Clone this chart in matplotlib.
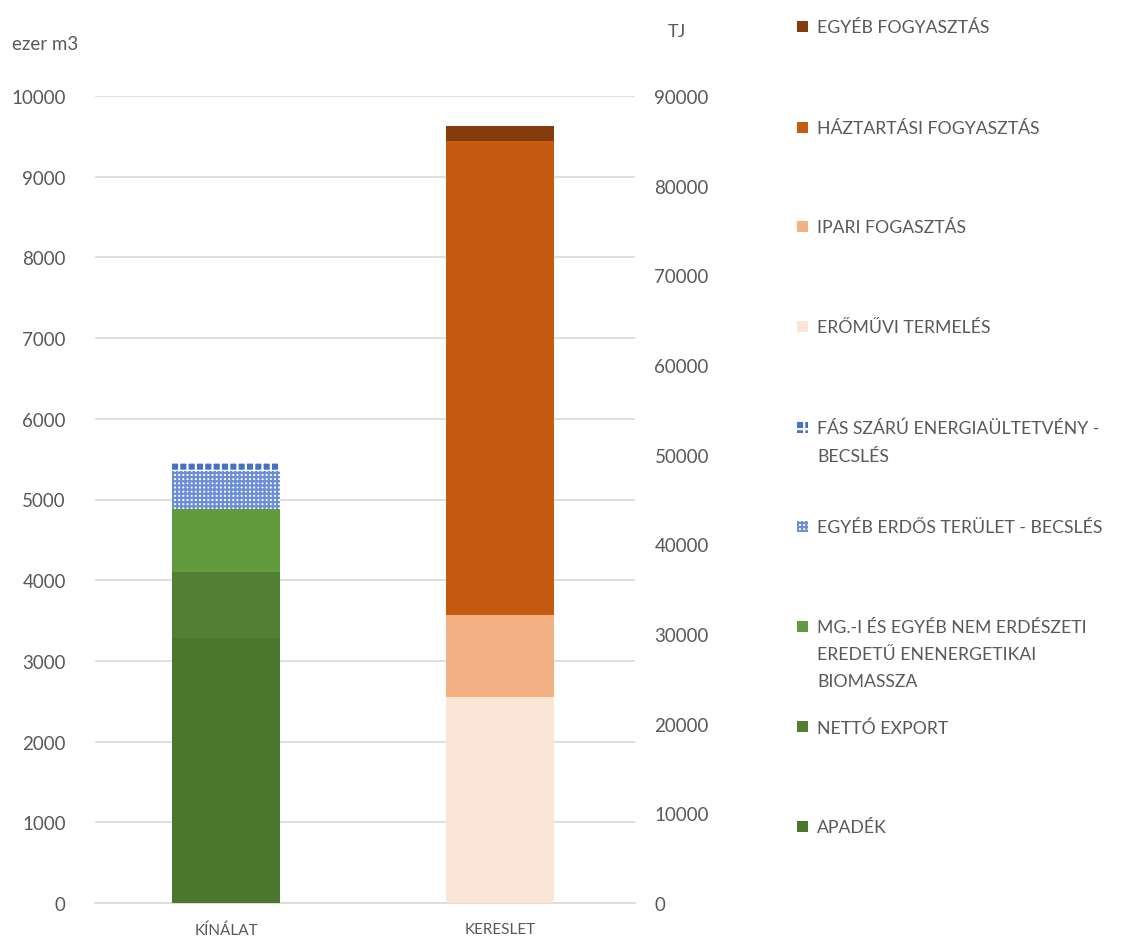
import numpy as np
import matplotlib
matplotlib.use("Agg")
import matplotlib.pyplot as plt
from matplotlib.patches import Rectangle

plt.rcParams['font.family'] = ['Lato', 'DejaVu Sans']
plt.rcParams['hatch.linewidth'] = 1.6

# adatok (ezer m3)
categories = ['KÍNÁLAT', 'KERESLET']
series_names = [
    'APADÉK',
    'NETTÓ EXPORT',
    'MG.-I ÉS EGYÉB NEM ERDÉSZETI\nEREDETŰ ENENERGETIKAI\nBIOMASSZA',
    'EGYÉB ERDŐS TERÜLET - BECSLÉS',
    'FÁS SZÁRÚ ENERGIAÜLTETVÉNY -\nBECSLÉS',
    'ERŐMŰVI TERMELÉS',
    'IPARI FOGASZTÁS',
    'HÁZTARTÁSI FOGYASZTÁS',
    'EGYÉB FOGYASZTÁS',
]
apadek = [3285, 0]
netto_export = [815, 0]
mg_biomassza = [780, 0]
egyeb_erdos = [470, 0]
fas_szaru = [100, 0]
eromuvi = [0, 2550]
ipari = [0, 1020]
haztartasi = [0, 5870]
egyeb_fogy = [0, 185]
values = [apadek, netto_export, mg_biomassza, egyeb_erdos, fas_szaru,
          eromuvi, ipari, haztartasi, egyeb_fogy]

left_ticks = np.arange(0, 10001, 1000)
right_ticks = np.arange(0, 90001, 10000)

# stílusok: (facecolor, edgecolor, hatch)
styles = [
    ('#4a762d', 'none', None),
    ('#527f33', 'none', None),
    ('#629a3e', 'none', None),
    ('#ffffff', '#6a8fd6', '++++'),
    ('#4472c4', '#ffffff', '++'),
    ('#fbe5d6', 'none', None),
    ('#f4b183', 'none', None),
    ('#c55a11', 'none', None),
    ('#843c0c', 'none', None),
]

text_col = '#595959'
grid_col = '#d9d9d9'

fig = plt.figure(figsize=(11.36, 9.37), dpi=100)
ax = fig.add_axes([95 / 1136, 1 - 904 / 937, 540 / 1136, 807 / 937])

x = np.arange(len(categories))
bottom = np.zeros(len(categories))
for vals, (fc, ec, h) in zip(values, styles):
    vals = np.array(vals, dtype=float)
    ax.bar(x, vals, width=0.394, bottom=bottom, color=fc, edgecolor=ec,
           hatch=h, linewidth=0, zorder=3)
    bottom += vals

ax.set_xlim(-0.478, 1.493)
ax.set_ylim(0, 10000)
ax.set_yticks(left_ticks)
ax.set_xticks(x)
ax.set_xticklabels(categories, fontsize=11, color=text_col)
ax.tick_params(axis='y', length=0, labelsize=13.5, labelcolor=text_col, pad=21)
ax.tick_params(axis='x', length=0, pad=14)
ax.grid(axis='y', color=grid_col, linewidth=1.2, zorder=0)
for s in ['top', 'left', 'right']:
    ax.spines[s].set_visible(False)
ax.spines['bottom'].set_color(grid_col)
ax.spines['bottom'].set_linewidth(1.2)

ax2 = ax.twinx()
ax2.set_ylim(0, 90000)
ax2.set_yticks(right_ticks)
ax2.tick_params(axis='y', length=0, labelsize=13.5, labelcolor=text_col, pad=14)
for s in ['top', 'left', 'right', 'bottom']:
    ax2.spines[s].set_visible(False)

fig.text(12 / 1136, 1 - 45 / 937, 'ezer m3', fontsize=13.5, color=text_col,
         ha='left', va='center')
fig.text(668 / 1136, 1 - 32 / 937, 'TJ', fontsize=13, color=text_col,
         ha='left', va='center')

# jelmagyarázat (felülről lefelé, fordított sorrend)
leg_y = [27, 128, 227, 327, 428, 527, 627, 727, 827]
for i, idx in enumerate(range(len(series_names) - 1, -1, -1)):
    fc, ec, h = styles[idx]
    yc = leg_y[i]
    r = Rectangle((797 / 1136, 1 - (yc + 6) / 937), 11 / 1136, 11 / 937,
                  transform=fig.transFigure, facecolor=fc, edgecolor=ec,
                  hatch=h, linewidth=0)
    fig.add_artist(r)
    fig.text(817 / 1136, 1 - (yc - 7) / 937, series_names[idx], fontsize=12.7,
             color=text_col, ha='left', va='top', linespacing=1.85)

fig.savefig('out.png', dpi=100)
